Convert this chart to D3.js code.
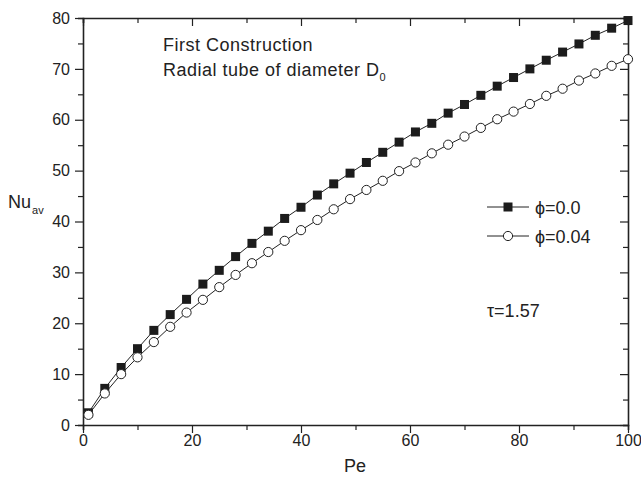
<!DOCTYPE html>
<html>
<head>
<meta charset="utf-8">
<script src="https://cdn.jsdelivr.net/npm/d3@7"></script>
<style>
body{margin:0;background:#fff;}
svg{display:block;font-family:"Liberation Sans",Arial,sans-serif;}
</style>
</head>
<body>
<svg id="c" width="641" height="477"></svg>
<script>
const peValues = [1,4,7,10,13,16,19,22,25,28,31,34,37,40,43,46,49,52,55,58,61,64,67,70,73,76,79,82,85,88,91,94,97,100];
const nuPhi00 = [2.4,7.2,11.3,15.0,18.6,21.7,24.7,27.7,30.4,33.1,35.7,38.1,40.6,42.8,45.2,47.4,49.5,51.6,53.6,55.6,57.6,59.3,61.3,63.0,64.8,66.6,68.3,70.0,71.7,73.3,74.9,76.6,78.0,79.5];
const nuPhi004 = [2.0,6.2,10.0,13.3,16.3,19.3,22.1,24.6,27.1,29.5,31.8,34.0,36.2,38.3,40.3,42.4,44.4,46.2,48.0,49.9,51.6,53.4,55.1,56.7,58.4,60.1,61.6,63.1,64.7,66.1,67.7,69.1,70.6,71.9];
const seriesNames = ["\u03D5=0.0","\u03D5=0.04"];
const xTicks = [0,20,40,60,80,100];
const yTicks = [0,10,20,30,40,50,60,70,80];

const svg = d3.select("#c");
const x = d3.scaleLinear().domain([0,100]).range([83,628]);
const y = d3.scaleLinear().domain([0,80]).range([425,18]);

const xMinor = d3.range(0,101,10);
const yMinor = d3.range(0,81,5);

const gx = svg.append("g").attr("transform","translate(0,425)")
  .call(d3.axisBottom(x).tickValues(xMinor).tickSize(5).tickFormat(""));
gx.selectAll(".tick line").filter(d=>d%20===0).attr("y2",8);
const gxl = svg.append("g").attr("transform","translate(0,425)")
  .call(d3.axisBottom(x).tickValues(xTicks).tickSize(0).tickPadding(10));
gxl.select(".domain").remove();

const gy = svg.append("g").attr("transform","translate(83,0)")
  .call(d3.axisLeft(y).tickValues(yMinor).tickSize(5).tickFormat(""));
gy.selectAll(".tick line").filter(d=>d%10===0).attr("x2",-8);
const gyl = svg.append("g").attr("transform","translate(83,0)")
  .call(d3.axisLeft(y).tickValues(yTicks).tickSize(0).tickPadding(13));
gyl.select(".domain").remove();

const gt = svg.append("g").attr("transform","translate(0,18)")
  .call(d3.axisTop(x).tickValues(xMinor).tickSize(-5).tickFormat(""));
gt.selectAll(".tick line").filter(d=>d%20===0).attr("y2",8);
const gr = svg.append("g").attr("transform","translate(628,0)")
  .call(d3.axisRight(y).tickValues(yMinor).tickSize(-5).tickFormat(""));
gr.selectAll(".tick line").filter(d=>d%10===0).attr("x2",-8);

svg.selectAll(".domain").attr("stroke","#222").attr("stroke-width",1.6);
svg.selectAll(".tick line").attr("stroke","#222").attr("stroke-width",1.2);
svg.selectAll(".tick text").attr("font-size",16).attr("fill","#222")
  .attr("font-family","Liberation Sans, Arial, sans-serif");

const line = d3.line().x((d,i)=>x(peValues[i])).y(d=>y(d));
svg.append("path").datum(nuPhi00).attr("d",line).attr("fill","none").attr("stroke","#222").attr("stroke-width",1);
svg.append("path").datum(nuPhi004).attr("d",line).attr("fill","none").attr("stroke","#222").attr("stroke-width",1);

const sq = 9;
svg.append("g").selectAll("rect").data(nuPhi00).join("rect")
  .attr("x",(d,i)=>x(peValues[i])-sq/2).attr("y",d=>y(d)-sq/2)
  .attr("width",sq).attr("height",sq).attr("fill","#1c1c1c");
svg.append("g").selectAll("circle").data(nuPhi004).join("circle")
  .attr("cx",(d,i)=>x(peValues[i])).attr("cy",d=>y(d)).attr("r",4.6)
  .attr("fill","#fff").attr("stroke","#222").attr("stroke-width",1);

const leg = [{y:207,type:"sq",name:seriesNames[0]},{y:236,type:"ci",name:seriesNames[1]}];
leg.forEach(l=>{
  svg.append("line").attr("x1",487).attr("x2",529).attr("y1",l.y).attr("y2",l.y).attr("stroke","#222").attr("stroke-width",1);
  if(l.type==="sq") svg.append("rect").attr("x",508-sq/2).attr("y",l.y-sq/2).attr("width",sq).attr("height",sq).attr("fill","#1c1c1c");
  else svg.append("circle").attr("cx",508).attr("cy",l.y).attr("r",4.6).attr("fill","#fff").attr("stroke","#222");
  svg.append("text").attr("x",535).attr("y",l.y+7).attr("font-size",18).attr("fill","#222").text(l.name);
});

svg.append("text").attr("x",163).attr("y",51).attr("font-size",18).attr("letter-spacing",0.5).attr("fill","#222").text("First Construction");
const t2 = svg.append("text").attr("x",163).attr("y",76).attr("font-size",18).attr("letter-spacing",0.5).attr("fill","#222");
t2.append("tspan").text("Radial tube of diameter D");
t2.append("tspan").attr("font-size",11).attr("dy",5).text("0");

svg.append("text").attr("x",487).attr("y",317).attr("font-size",18).attr("fill","#222").text("\u03C4=1.57");

svg.append("text").attr("x",355).attr("y",472).attr("text-anchor","middle").attr("font-size",18).attr("fill","#222").text("Pe");
const ny = svg.append("text").attr("x",8).attr("y",208).attr("font-size",18).attr("fill","#222");
ny.append("tspan").text("Nu");
ny.append("tspan").attr("font-size",11).attr("dy",6).attr("dx",1).text("av");
</script>
</body>
</html>
